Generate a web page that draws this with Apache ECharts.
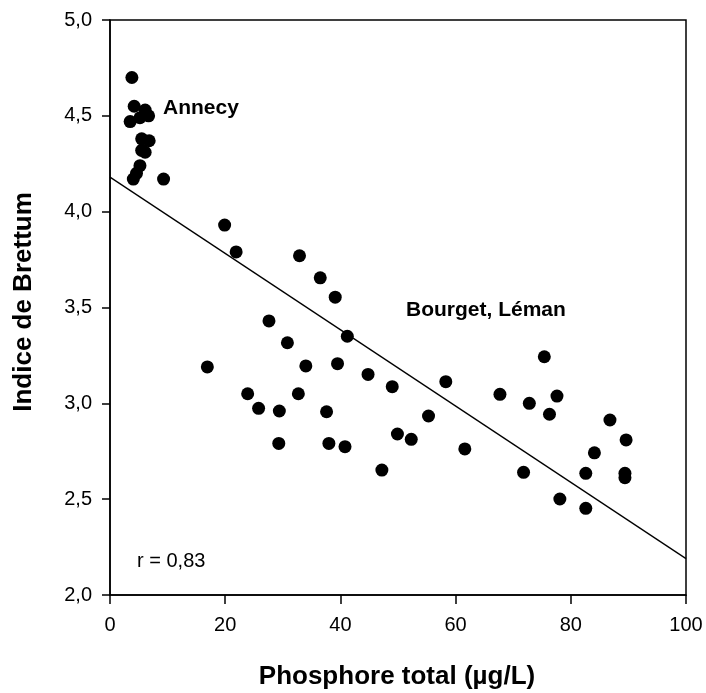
<!DOCTYPE html>
<html>
<head>
<meta charset="utf-8">
<script src="https://cdn.jsdelivr.net/npm/echarts@6/dist/echarts.min.js"></script>
<style>html,body{margin:0;padding:0;background:#fff}#c{width:706px;height:693px}</style>
</head>
<body>
<div id="c"></div>
<script>
// Annecy points
const annecyX = [3.8, 4.2, 6.1, 3.5, 5.2, 6.7, 5.5, 6.8, 5.5, 6.1, 5.2, 4.6, 4.05, 9.3];
const annecyY = [4.70, 4.55, 4.53, 4.47, 4.49, 4.50, 4.38, 4.37, 4.32, 4.31, 4.24, 4.20, 4.17, 4.17];
// Bourget, Léman points
const otherX = [19.9, 21.9, 32.9, 36.5, 39.1, 27.6, 30.8, 41.2, 16.9, 34.0, 39.5, 44.8, 23.9, 32.7, 25.8, 29.4, 37.6, 29.3, 38.0, 40.8,
                49.0, 58.3, 67.7, 72.8, 55.3, 49.9, 52.3, 61.6, 47.2, 71.8, 75.4, 77.6, 76.3, 86.8, 89.6, 84.1, 82.6, 89.4, 89.4, 78.1, 82.6];
const otherY = [3.93, 3.79, 3.77, 3.655, 3.554, 3.43, 3.316, 3.35, 3.19, 3.195, 3.207, 3.151, 3.05, 3.05, 2.974, 2.96, 2.956, 2.791, 2.791, 2.774,
                3.087, 3.113, 3.047, 3.0, 2.934, 2.84, 2.812, 2.762, 2.652, 2.64, 3.243, 3.038, 2.943, 2.913, 2.809, 2.742, 2.635, 2.635, 2.612, 2.501, 2.452];
// Regression line endpoints
const regX = [0, 100];
const regY = [4.18, 2.19];
// Axis ticks
const xTicks = [0, 20, 40, 60, 80, 100];
const yTicks = [2.0, 2.5, 3.0, 3.5, 4.0, 4.5, 5.0];
const xTitle = 'Phosphore total (µg/L)';
const yTitle = 'Indice de Brettum';
const labelAnnecy = 'Annecy';
const labelOther = 'Bourget, Léman';
const labelR = 'r = 0,83';

const FONT = '"Liberation Sans", Arial, sans-serif';
const pts = annecyX.map((x, i) => [x, annecyY[i]]).concat(otherX.map((x, i) => [x, otherY[i]]));
const reg = regX.map((x, i) => [x, regY[i]]);

const chart = echarts.init(document.getElementById('c'), null, {renderer: 'canvas'});
chart.setOption({
  animation: false,
  backgroundColor: '#fff',
  grid: {left: 110, right: 20, top: 20, bottom: 98, show: true, borderColor: '#000', borderWidth: 1.5, backgroundColor: 'transparent'},
  xAxis: {
    type: 'value', min: xTicks[0], max: xTicks[xTicks.length - 1], interval: 20,
    axisLine: {show: true, onZero: false, lineStyle: {color: '#000', width: 1.5}},
    axisTick: {show: true, inside: false, length: 9, lineStyle: {color: '#000', width: 1.5}},
    axisLabel: {color: '#000', fontSize: 20, fontFamily: FONT, margin: 20},
    splitLine: {show: false}
  },
  yAxis: {
    type: 'value', min: yTicks[0], max: yTicks[yTicks.length - 1], interval: 0.5,
    axisLine: {show: true, onZero: false, lineStyle: {color: '#000', width: 1.5}},
    axisTick: {show: true, inside: false, length: 8, lineStyle: {color: '#000', width: 1.5}},
    axisLabel: {color: '#000', fontSize: 20, fontFamily: FONT, margin: 18,
      formatter: v => v.toFixed(1).replace('.', ',')},
    splitLine: {show: false}
  },
  series: [
    {type: 'line', data: reg, symbol: 'none', lineStyle: {color: '#000', width: 1.3}, silent: true, z: 1},
    {type: 'scatter', data: pts, symbol: 'circle', symbolSize: 13, itemStyle: {color: '#000', opacity: 1}, z: 2}
  ],
  graphic: [
    {type: 'text', left: 163, top: 98, style: {text: labelAnnecy, fill: '#000', font: 'bold 21px ' + FONT}},
    {type: 'text', left: 406, top: 300, style: {text: labelOther, fill: '#000', font: 'bold 21px ' + FONT}},
    {type: 'text', left: 137, top: 551, style: {text: labelR, fill: '#000', font: '20px ' + FONT}},
    {type: 'text', x: 397, y: 677, style: {text: xTitle, fill: '#000', font: 'bold 26px ' + FONT, textAlign: 'center', textVerticalAlign: 'middle'}},
    {type: 'text', x: 24, y: 302, rotation: Math.PI / 2, style: {text: yTitle, fill: '#000', font: 'bold 26px ' + FONT, textAlign: 'center', textVerticalAlign: 'middle'}}
  ]
});
</script>
</body>
</html>
